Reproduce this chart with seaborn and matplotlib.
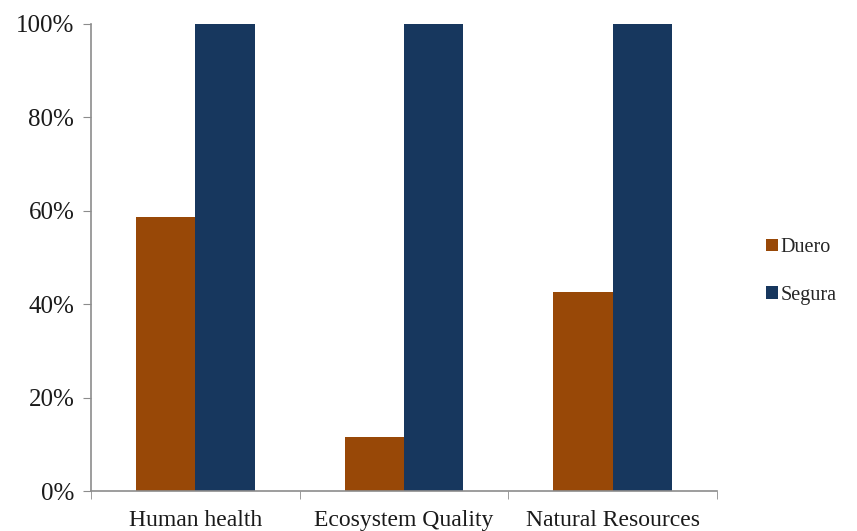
import matplotlib
matplotlib.use("Agg")
import matplotlib.pyplot as plt
import seaborn as sns
import pandas as pd
from matplotlib.ticker import FuncFormatter, FixedLocator

categories = ["Human health", "Ecosystem Quality", "Natural Resources"]
duero = [58.7, 11.6, 42.6]
segura = [100, 100, 100]
series = ["Duero", "Segura"]
colors = ["#984807", "#17375E"]

df = pd.DataFrame({
    "category": categories * 2,
    "value": duero + segura,
    "series": [series[0]] * 3 + [series[1]] * 3,
})

sns.set_style("white")
plt.rcParams["font.family"] = ["Liberation Serif", "DejaVu Serif"]

fig = plt.figure(figsize=(8.57, 5.31), dpi=100)
ax = fig.add_axes([91/857, 1-491/531, (717-91)/857, (491-24)/531])
sns.barplot(data=df, x="category", y="value", hue="series", palette=colors,
            width=0.57, saturation=1, ax=ax, legend=True, linewidth=0)

ax.set_ylim(0, 100)
ax.set_xlim(-0.5, 2.5)
ax.yaxis.set_major_locator(FixedLocator([0, 20, 40, 60, 80, 100]))
ax.yaxis.set_major_formatter(FuncFormatter(lambda v, p: f"{int(v)}%"))
ax.set_xlabel("")
ax.set_ylabel("")
for s in ["top", "right"]:
    ax.spines[s].set_visible(False)
for s in ["left", "bottom"]:
    ax.spines[s].set_color("#8c8c8c")
    ax.spines[s].set_linewidth(1.2)
ax.tick_params(axis="y", which="major", length=6, color="#8c8c8c", labelsize=18,
               left=True, pad=6, labelcolor="#1a1a1a")
ax.tick_params(axis="x", which="major", length=0, labelsize=17, pad=14, labelcolor="#1a1a1a")
ax.set_xticks([0, 1, 2])
ax.set_xticklabels(categories)
ax.set_xticks([-0.5, 0.5, 1.5, 2.5], minor=True)
ax.tick_params(axis="x", which="minor", length=6, color="#8c8c8c", bottom=True)

leg = ax.legend(loc="center left", bbox_to_anchor=(1.05, 0.47), frameon=False,
                fontsize=14.5, handlelength=0.55, handleheight=0.55, handletextpad=0.15,
                labelspacing=1.4)
fig.savefig("out.png", dpi=100)
